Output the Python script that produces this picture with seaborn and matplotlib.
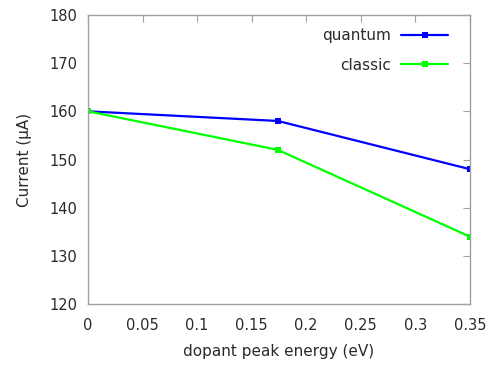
import numpy as np
import pandas as pd
import seaborn as sns
import matplotlib
matplotlib.use("Agg")
import matplotlib.pyplot as plt

# data
energy = [0.0, 0.174, 0.35]
quantum = [160, 158, 148]
classic = [160, 152, 134]
series_names = ["quantum", "classic"]
x_ticks = [0, 0.05, 0.1, 0.15, 0.2, 0.25, 0.3, 0.35]
x_labels = ["0", "0.05", "0.1", "0.15", "0.2", "0.25", "0.3", "0.35"]
y_ticks = [120, 130, 140, 150, 160, 170, 180]

df = pd.DataFrame({
    "energy": energy * 2,
    "current": quantum + classic,
    "model": ["quantum"] * 3 + ["classic"] * 3,
})

sns.set_style("white")
plt.rcParams["font.family"] = ["DejaVu Sans"]

fig = plt.figure(figsize=(4.95, 3.65), dpi=100)
ax = fig.add_axes([0.178, 0.167, 0.771, 0.792])

sns.lineplot(
    data=df, x="energy", y="current", hue="model",
    hue_order=series_names,
    palette={"quantum": "#0000ff", "classic": "#00ff00"},
    marker="s", markersize=4.5, markeredgewidth=0,
    linewidth=1.6, ax=ax,
)

ax.set_xlim(0, 0.35)
ax.set_ylim(120, 180)
ax.set_xticks(x_ticks)
ax.set_xticklabels(x_labels)
ax.set_yticks(y_ticks)

text_col = "#2a2a2a"
frame = "#a0a0a0"
for s in ax.spines.values():
    s.set_color(frame)
    s.set_linewidth(1.0)
ax.tick_params(direction="in", length=5, width=0.8, color=frame,
               top=True, right=True, labelsize=10.5, labelcolor=text_col)
ax.tick_params(axis="x", pad=10)
ax.tick_params(axis="y", pad=8)

ax.set_xlabel("dopant peak energy (eV)", fontsize=11, color=text_col, labelpad=8)
ax.set_ylabel("Current (µA)", fontsize=11, color=text_col, labelpad=12)

leg = ax.legend(loc="upper right", bbox_to_anchor=(1.0, 1.028),
                frameon=False, markerfirst=False,
                fontsize=11, handlelength=3.1, handletextpad=0.65,
                labelspacing=0.95, borderaxespad=1.0)
for t in leg.get_texts():
    t.set_color(text_col)

fig.savefig("out.png", dpi=100)
